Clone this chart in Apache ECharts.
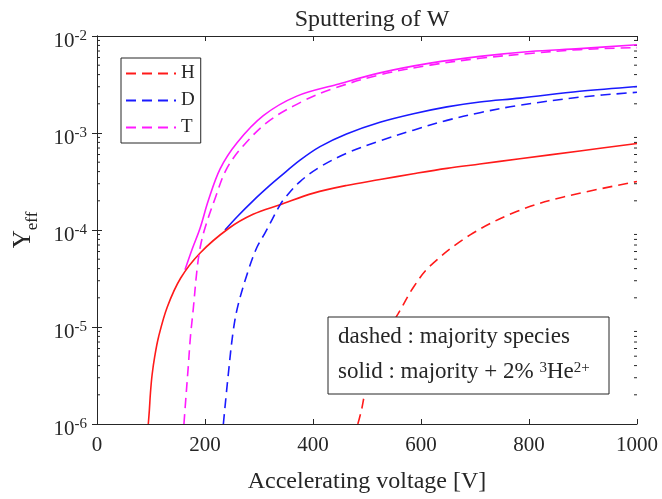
<!DOCTYPE html>
<html><head><meta charset="utf-8">
<script src="https://cdn.jsdelivr.net/npm/echarts@6/dist/echarts.min.js"></script>
<style>html,body{margin:0;padding:0;background:#fff}#c{width:662px;height:499px}</style>
</head><body><div id="c"></div>
<script>
// ---- data (x = accelerating voltage [V], y = Y_eff) ----
const xTicks = [0, 200, 400, 600, 800, 1000];
const yTickValues = [1e-6, 1e-5, 1e-4, 1e-3, 1e-2];
const legendNames = ['H', 'D', 'T'];

const H_dashed = [[483,1e-6],[490,1.41e-6],[496,2.09e-6],[513,4.9e-6],[535,8.5e-6],[558,1.38e-5],[586,2.57e-5],[617,4.27e-5],[691,8.9e-5],[777,1.55e-4],[864,2.19e-4],[1000,3.16e-4]];
const D_dashed = [[234,1e-6],[243,3.2e-6],[252,8.9e-6],[261,1.66e-5],[280,3.8e-5],[296,6.6e-5],[311,9.3e-5],[339,1.82e-4],[348,2.14e-4],[376,3.16e-4],[413,4.47e-4],[462,6.17e-4],[524,8.3e-4],[586,1.07e-3],[648,1.35e-3],[709,1.62e-3],[777,1.91e-3],[894,2.34e-3],[1000,2.63e-3]];
const T_dashed = [[161,1e-6],[165,2.0e-6],[169,3.9e-6],[173,7.9e-6],[178,1.48e-5],[185,3.8e-5],[191,6.6e-5],[200,1.05e-4],[219,2.14e-4],[240,4.27e-4],[271,7.4e-4],[320,1.35e-3],[382,2.14e-3],[433,2.82e-3],[524,3.98e-3],[617,5.01e-3],[709,5.89e-3],[802,6.61e-3],[894,7.24e-3],[1000,7.59e-3]];

const H_solid = [[95,1e-6],[97,1.4e-6],[99,2.1e-6],[102,3.2e-6],[107,5.0e-6],[114,7.9e-6],[130,1.6e-5],[155,3.2e-5],[191,5.8e-5],[243,1.03e-4],[289,1.45e-4],[339,1.82e-4],[401,2.4e-4],[462,2.88e-4],[524,3.31e-4],[586,3.8e-4],[648,4.32e-4],[709,4.79e-4],[783,5.43e-4],[894,6.53e-4],[1000,7.8e-4]];
const D_solid = [[237,1.0e-4],[260,1.38e-4],[289,2.0e-4],[320,2.88e-4],[339,3.55e-4],[376,5.25e-4],[413,7.24e-4],[462,9.77e-4],[524,1.29e-3],[586,1.58e-3],[648,1.86e-3],[709,2.09e-3],[783,2.29e-3],[894,2.69e-3],[1000,3.02e-3]];
const T_solid = [[163,3.9e-5],[176,6.3e-5],[191,1.05e-4],[206,2.0e-4],[228,4.27e-4],[259,7.9e-4],[308,1.51e-3],[370,2.40e-3],[444,3.16e-3],[524,4.17e-3],[617,5.25e-3],[709,6.17e-3],[802,6.92e-3],[894,7.41e-3],[1000,8.13e-3]];

const noteLine1 = 'dashed : majority species';
const noteLine2 = 'solid : majority + 2% {sup|3}He{sup|2+}';

// ---- styling ----
const FONT = 'Liberation Serif';
const INK = '#262626';
const RED = '#ff1a1a', BLUE = '#1a1aff', MAG = '#ff1aff';
const DASH = [10, 6];

const chart = echarts.init(document.getElementById('c'), null, {renderer: 'canvas'});

function lineSeries(name, data, color, dashed) {
  return {
    name: name, type: 'line', data: data, showSymbol: false, symbol: 'none',
    smooth: 0.35, clip: true,
    lineStyle: {color: color, width: 1.6, type: dashed ? DASH : 'solid'},
    itemStyle: {color: color}, z: 3
  };
}

const axisLineStyle = {show: true, lineStyle: {color: INK, width: 1}};

const option = {
  animation: false,
  backgroundColor: '#fff',
  title: {
    text: 'Sputtering of W', left: 367, top: 3, textAlign: 'center',
    textStyle: {fontFamily: FONT, fontSize: 24, fontWeight: 'normal', color: INK}
  },
  grid: {left: 97, right: 25, top: 36, bottom: 71, containLabel: false},
  legend: {
    data: legendNames, orient: 'vertical', left: 121, top: 58,
    itemWidth: 50, itemHeight: 18, itemGap: 8, padding: [6, 6, 6, 4],
    backgroundColor: '#fff', borderColor: INK, borderWidth: 1,
    itemStyle: {opacity: 0, borderWidth: 0},
    textStyle: {fontFamily: FONT, fontSize: 19, color: INK}, z: 10
  },
  xAxis: [{
    type: 'value', min: xTicks[0], max: xTicks[xTicks.length - 1], interval: 200,
    name: 'Accelerating voltage [V]', nameLocation: 'middle', nameGap: 46,
    nameTextStyle: {fontFamily: FONT, fontSize: 24, color: INK},
    axisLine: axisLineStyle,
    axisTick: {show: true, inside: true, length: 5, lineStyle: {color: INK}},
    axisLabel: {fontFamily: FONT, fontSize: 21, color: INK, margin: 11, formatter: function (v) { return String(v); }},
    splitLine: {show: false}
  }, {
    type: 'value', position: 'top', min: xTicks[0], max: xTicks[xTicks.length - 1], interval: 200,
    axisLine: axisLineStyle,
    axisTick: {show: true, inside: true, length: 5, lineStyle: {color: INK}},
    axisLabel: {show: false}, splitLine: {show: false}
  }],
  yAxis: [{
    type: 'log', logBase: 10, min: yTickValues[0], max: yTickValues[yTickValues.length - 1],
    name: '{y|Y}{e|eff}', nameLocation: 'middle', nameGap: 56, nameRotate: 90,
    nameTextStyle: {
      fontFamily: FONT, color: INK,
      rich: {
        y: {fontFamily: FONT, fontSize: 25, color: INK, lineHeight: 30, verticalAlign: 'top'},
        e: {fontFamily: FONT, fontSize: 17, color: INK, lineHeight: 20, verticalAlign: 'bottom'}
      }
    },
    axisLine: axisLineStyle,
    axisTick: {show: true, inside: true, length: 5, lineStyle: {color: INK}},
    axisLabel: {
      margin: 10,
      formatter: function (v) { return '{b|10}{s|' + Math.round(Math.log10(v)) + '}'; },
      rich: {
        b: {fontFamily: FONT, fontSize: 21, color: INK, lineHeight: 32, verticalAlign: 'bottom'},
        s: {fontFamily: FONT, fontSize: 15, color: INK, lineHeight: 28, verticalAlign: 'middle'}
      }
    },
    splitLine: {show: false}
  }, {
    type: 'log', logBase: 10, position: 'right',
    min: yTickValues[0], max: yTickValues[yTickValues.length - 1],
    axisLine: axisLineStyle,
    axisTick: {show: true, inside: true, length: 5, lineStyle: {color: INK}},
    axisLabel: {show: false}, splitLine: {show: false}
  }],
  series: [
    lineSeries('D solid', D_solid, BLUE, false),
    lineSeries('T solid', T_solid, MAG, false),
    lineSeries('H solid', H_solid, RED, false),
    lineSeries('H', H_dashed, RED, true),
    lineSeries('D', D_dashed, BLUE, true),
    lineSeries('T', T_dashed, MAG, true)
  ]
};
chart.setOption(option);

// minor log ticks (2..9 per decade) on left and right borders, placed by the axis scale
const rect = chart.getModel().getComponent('grid').coordinateSystem.getRect();
const minor = [];
for (let e = -6; e < -2; e++) {
  for (let k = 2; k <= 9; k++) {
    const py = chart.convertToPixel({yAxisIndex: 0}, k * Math.pow(10, e));
    minor.push({type: 'line', shape: {x1: rect.x, y1: py, x2: rect.x + 3, y2: py}, style: {stroke: INK, lineWidth: 1}, silent: true});
    minor.push({type: 'line', shape: {x1: rect.x + rect.width, y1: py, x2: rect.x + rect.width - 3, y2: py}, style: {stroke: INK, lineWidth: 1}, silent: true});
  }
}
const noteX = 328, noteY = 317, noteW = 281, noteH = 77;
chart.setOption({
  graphic: [
    {type: 'group', children: minor, z: 5},
    {type: 'rect', shape: {x: noteX, y: noteY, width: noteW, height: noteH},
     style: {fill: '#fff', stroke: INK, lineWidth: 1}, z: 20},
    {type: 'text', x: noteX + 10, y: noteY + 20, z: 21,
     style: {text: noteLine1, fontFamily: FONT, fontSize: 23, fill: INK, verticalAlign: 'middle'}},
    {type: 'text', x: noteX + 10, y: noteY + 55, z: 21,
     style: {text: noteLine2, fontFamily: FONT, fontSize: 23, fill: INK, verticalAlign: 'middle',
       rich: {sup: {fontFamily: FONT, fontSize: 15, fill: INK, verticalAlign: 'top', lineHeight: 22}}}}
  ]
});
</script>
</body></html>
